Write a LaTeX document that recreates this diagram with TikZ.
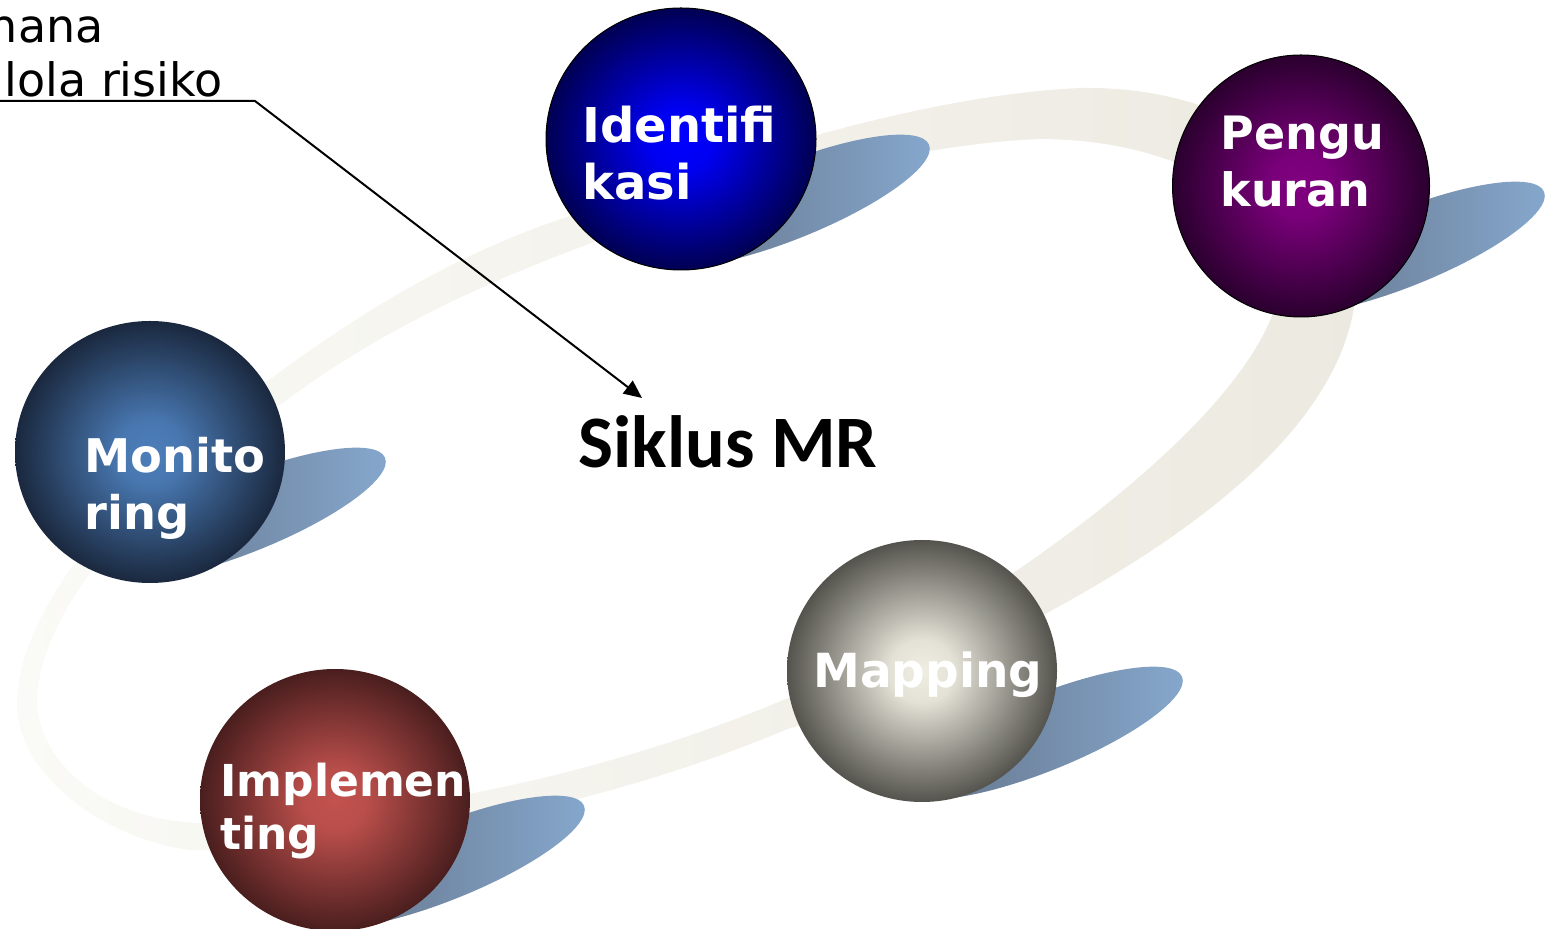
\documentclass[tikz,border=0pt]{standalone}
\usepackage{fontspec}
\newfontfamily\verdanalike{DejaVu Sans}
\newfontfamily\calibrilike{Carlito}
\usetikzlibrary{shapes.geometric, arrows.meta}
\definecolor{ringpale}{RGB}{250, 250, 246}
\definecolor{ringbeige}{RGB}{236, 233, 224}
\definecolor{shadowdark}{RGB}{98, 112, 132}
\definecolor{shadowlight}{RGB}{134, 168, 206}
\definecolor{idfin}{RGB}{0, 0, 255}
\definecolor{idfout}{RGB}{0, 0, 82}
\definecolor{pguin}{RGB}{128, 0, 128}
\definecolor{pguout}{RGB}{42, 0, 46}
\definecolor{monin}{RGB}{76, 126, 186}
\definecolor{monout}{RGB}{26, 40, 62}
\definecolor{mapin}{RGB}{240, 238, 226}
\definecolor{mapout}{RGB}{84, 83, 77}
\definecolor{impin}{RGB}{194, 82, 78}
\definecolor{impout}{RGB}{74, 30, 30}
\colorlet{orbin}{white}
\colorlet{orbout}{black}
\pgfdeclareradialshading[orbin,orbout]{orb}{\pgfpoint{0bp}{0bp}}{color(0bp)=(orbin);
  color(6bp)=(orbin!92!orbout); color(25bp)=(orbout); color(50bp)=(orbout)}

\begin{document}
\begin{tikzpicture}[x=0.5pt, y=-0.5pt,
  sphere/.style 2 args={ellipse, inner sep=0pt, minimum width=135pt, minimum height=131pt,
                        /utils/exec={\colorlet{orbin}{#1}\colorlet{orbout}{#2}}, shading=orb, shade},
  sphlabel/.style={text=white, font=\verdanalike\bfseries\fontsize{24}{28.5}\selectfont,
                   align=left, anchor=base west, inner sep=0pt},
  blob/.style={left color=shadowdark, right color=shadowlight},
  callout/.style={font=\verdanalike\fontsize{23}{27}\selectfont, anchor=base east, inner sep=0pt}]
  \useasboundingbox (0, 0) rectangle (1548, 929);

  % the orbit band
  \shade [left color=ringpale, right color=ringbeige]
    (573, 215) .. controls (750, 150) and (930, 95) .. (1080, 88)
    .. controls (1280, 85) and (1370, 220) .. (1353, 313)
    .. controls (1330, 430) and (1200, 530) .. (1047, 613)
    .. controls (930, 690) and (860, 710) .. (790, 728)
    .. controls (620, 800) and (400, 850) .. (190, 850)
    .. controls (110, 840) and (20, 780) .. (17, 707)
    .. controls (15, 600) and (150, 460) .. (273, 377)
    .. controls (373, 303) and (470, 248) .. (573, 215) -- cycle;
  \fill [white]
    (600, 240) .. controls (760, 190) and (900, 145) .. (1040, 139)
    .. controls (1220, 140) and (1310, 240) .. (1273, 313)
    .. controls (1240, 400) and (1120, 500) .. (1013, 573)
    .. controls (930, 630) and (860, 670) .. (790, 697)
    .. controls (620, 770) and (400, 820) .. (200, 823)
    .. controls (110, 820) and (45, 770) .. (37, 707)
    .. controls (35, 600) and (170, 470) .. (283, 403)
    .. controls (380, 330) and (490, 280) .. (600, 240) -- cycle;

  % shadows
  \shade [blob, rotate around={22:(790, 201)}] (790, 201) ellipse [x radius=150, y radius=38];
  \shade [blob, rotate around={22:(1405, 248)}] (1405, 248) ellipse [x radius=150, y radius=38];
  \shade [blob, rotate around={22:(246, 514)}] (246, 514) ellipse [x radius=150, y radius=38];
  \shade [blob, rotate around={22:(1043, 733)}] (1043, 733) ellipse [x radius=150, y radius=38];
  \shade [blob, rotate around={22:(445, 862)}] (445, 862) ellipse [x radius=150, y radius=38];

  % spheres
  \node [sphere={idfin}{idfout}, draw=black, line width=0.5pt] (idf) at (681, 139) {};
  \node [sphere={pguin}{pguout}, draw=black, line width=0.5pt, minimum width=128.5pt] (pgu) at (1301, 186) {};
  \node [sphere={monin}{monout}] (mon) at (150, 452) {};
  \node [sphere={mapin}{mapout}] (map) at (922, 671) {};
  \node [sphere={impin}{impout}] (imp) at (335, 800) {};

  \node [sphlabel] (idftext) at (582, 200) {Identifi\\kasi};
  \node [sphlabel, font=\verdanalike\bfseries\fontsize{23}{28.5}\selectfont] (pgutext) at (1220, 207) {Pengu\\kuran};
  \node [sphlabel, font=\verdanalike\bfseries\fontsize{23.2}{28.5}\selectfont] (montext) at (84, 530) {Monito\\ring};
  \node [sphlabel, font=\verdanalike\bfseries\fontsize{23.5}{28.5}\selectfont] (maptext) at (813, 688) {Mapping};
  \node [sphlabel, font=\verdanalike\bfseries\fontsize{22}{26.5}\selectfont] (imptext) at (220, 850) {Implemen\\ting};

  \node [font=\calibrilike\bfseries\fontsize{37}{40}\selectfont, anchor=base west, inner sep=0pt]
    (siklus) at (578, 468) {Siklus MR};

  % callout
  \node [callout] (calltop) at (104, 43) {nana};
  \node [callout] (callbottom) at (223, 97) {lola risiko};
  \coordinate (callstart) at (-10, 101);
  \coordinate (callbend) at (255, 101);
  \coordinate (calltip) at (642, 398);
  \draw [line width=1pt, -{Triangle[length=9pt, width=8pt]}] (callstart) -- (callbend) -- (calltip);
\end{tikzpicture}
\end{document}
